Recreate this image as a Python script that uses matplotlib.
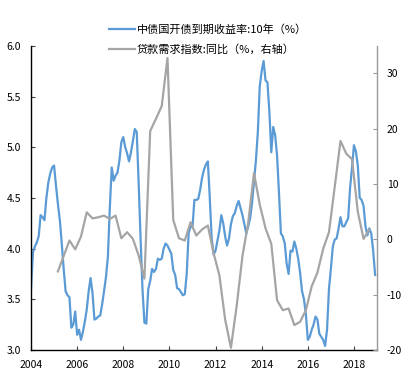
import numpy as np
import matplotlib
matplotlib.use('Agg')
import matplotlib.pyplot as plt

plt.rcParams['font.family'] = ['Noto Sans CJK SC', 'DejaVu Sans']

# 中债国开债到期收益率:10年 (%), monthly from 2004-01
bond_10y = [
    3.60, 3.96, 4.02, 4.06, 4.12, 4.33, 4.31, 4.28, 4.50, 4.65, 4.74, 4.80,
    4.82, 4.62, 4.44, 4.28, 4.05, 3.80, 3.58, 3.54, 3.52, 3.22, 3.25, 3.38,
    3.15, 3.20, 3.10, 3.18, 3.28, 3.40, 3.58, 3.71, 3.56, 3.30, 3.31, 3.33,
    3.34, 3.45, 3.58, 3.72, 3.92, 4.40, 4.80, 4.67, 4.72, 4.75, 4.87, 5.05,
    5.10, 5.00, 4.94, 4.86, 4.95, 5.06, 5.18, 5.15, 4.65, 4.10, 3.60, 3.27,
    3.26, 3.60, 3.68, 3.80, 3.77, 3.80, 3.90, 3.89, 3.90, 4.00, 4.05, 4.03,
    3.99, 3.95, 3.79, 3.74, 3.61, 3.60, 3.57, 3.54, 3.55, 3.75, 4.15, 4.22,
    4.21, 4.48, 4.48, 4.49, 4.58, 4.70, 4.78, 4.83, 4.86, 4.50, 4.10, 3.94,
    3.98, 4.08, 4.18, 4.33, 4.25, 4.12, 4.03, 4.10, 4.24, 4.32, 4.35, 4.42,
    4.47, 4.40, 4.33, 4.24, 4.15, 4.22, 4.30, 4.45, 4.66, 4.87, 5.15, 5.60,
    5.75, 5.85, 5.66, 5.64, 5.35, 4.95, 5.20, 5.12, 4.92, 4.55, 4.15, 4.12,
    4.05, 3.85, 3.75, 3.98, 3.97, 4.07, 4.00, 3.90, 3.76, 3.58, 3.50, 3.35,
    3.10, 3.13, 3.20, 3.25, 3.33, 3.30, 3.16, 3.13, 3.10, 3.04, 3.20, 3.60,
    3.80, 4.02, 4.09, 4.10, 4.20, 4.31, 4.22, 4.22, 4.26, 4.30, 4.60, 4.80,
    5.02, 4.96, 4.82, 4.50, 4.48, 4.42, 4.22, 4.13, 4.20, 4.15, 3.98, 3.74,
]

# 贷款需求指数:同比 (%), quarterly 2005Q1 - 2018Q3
loan_demand = [
    -5.8, -3.0, -0.2, -1.8, 0.5, 4.9, 3.8, 4.0, 4.3, 3.7, 4.3, 0.2,
    1.3, 0.1, -2.9, -7.1, 19.6, 21.8, 24.1, 32.8, 3.5, 0.2, -0.2, 3.1,
    0.7, 1.8, 2.5, -2.5, -6.5, -14.5, -19.6, -12.0, -3.0, 3.0, 12.0, 6.3,
    2.0, -0.8, -11.0, -12.8, -12.5, -15.5, -14.9, -12.8, -8.5, -6.0, -1.7, 1.3,
    9.5, 17.8, 15.5, 14.5, 5.0, 0.1, 1.8,
]

years = [2004, 2006, 2008, 2010, 2012, 2014, 2016, 2018]
left_ticks = [3.0, 3.5, 4.0, 4.5, 5.0, 5.5, 6.0]
right_ticks = [-20, -10, 0, 10, 20, 30]

t_bond = 2004 + np.arange(len(bond_10y)) / 12
t_loan = 2005 + 2 / 12 + 0.25 * np.arange(len(loan_demand))

blue = '#5B9BD5'
grey = '#A5A5A5'

fig = plt.figure(figsize=(4.09, 3.87), dpi=100)
ax = fig.add_axes([0.0758, 0.0956, 0.846, 0.786])
ax2 = ax.twinx()

l1, = ax.plot(t_bond, bond_10y, color=blue, lw=1.6)
l2, = ax2.plot(t_loan, loan_demand, color=grey, lw=1.6)

ax.set_xlim(2004, 2019)
ax.set_ylim(3.0, 6.0)
ax2.set_ylim(-20, 35)
ax.set_xticks(years)
ax.set_xticklabels([str(y) for y in years])
ax.set_yticks(left_ticks)
ax.set_yticklabels(['%.1f' % v for v in left_ticks])
ax2.set_yticks(right_ticks)
ax2.set_yticklabels([str(v) for v in right_ticks])

for a in (ax, ax2):
    a.spines['top'].set_visible(False)
ax.spines['right'].set_visible(False)
ax2.spines['left'].set_visible(False)
ax2.spines['bottom'].set_visible(False)
ax.spines['left'].set_color('black')
ax.spines['bottom'].set_color('black')
ax2.spines['right'].set_color('#999999')
for s in ax.spines.values():
    s.set_linewidth(1.0)
ax2.spines['right'].set_linewidth(1.0)

ax.tick_params(axis='both', direction='in', length=3, width=0.8, labelsize=7.5,
               colors='#404040', labelcolor='black')
ax.tick_params(axis='y', pad=7)
ax.tick_params(axis='x', pad=7)
ax2.tick_params(axis='y', direction='in', length=3, width=0.8, labelsize=7.5,
                colors='#999999', labelcolor='black', pad=7)

fig.legend([l1, l2], ['中债国开债到期收益率:10年（%）', '贷款需求指数:同比（%，右轴）'],
           loc='upper left', bbox_to_anchor=(0.266, 0.936), frameon=False,
           fontsize=8, handlelength=2.4, handletextpad=0.1, labelspacing=0.75,
           borderaxespad=0, borderpad=0)

fig.savefig('out.png', dpi=100)
